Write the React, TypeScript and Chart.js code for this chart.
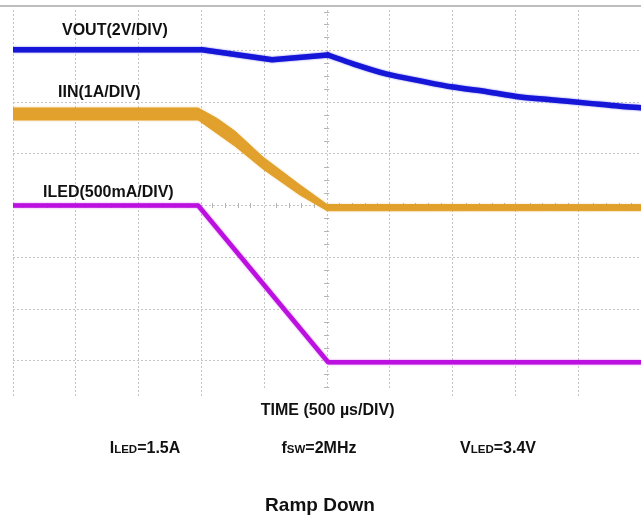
import React, { useEffect, useRef } from "react";
import { Chart, registerables } from "chart.js";

Chart.register(...registerables);

// Time axis in microseconds (500 µs per division), trace values in screen divisions
const vOutTimeA = [-2470, -980, -429, 10];
const vOutDivA = [3.01, 3.01, 2.82, 2.91];
const vOutTimeB = [10, 209, 476, 736, 996, 1264, 1524, 1783, 2051, 2311, 2476];
const vOutDivB = [2.91, 2.74, 2.54, 2.41, 2.29, 2.2, 2.1, 2.04, 1.98, 1.92, 1.89];

// IIN trace is a noisy band: upper and lower envelope
const iInTime = [-2470, -1012, -860, -720, -500, -209, 4, 2476];
const iInUpper = [1.886, 1.886, 1.68, 1.435, 0.936, 0.397, 0.02, 0.018];
const iInLower = [1.654, 1.654, 1.39, 1.145, 0.704, 0.203, -0.1, -0.098];

const iLedTime = [-2470, -1012, 12, 2476];
const iLedDiv = [0.0, 0.0, -3.03, -3.03];

const seriesNames = ["VOUT(2V/DIV)", "IIN(1A/DIV)", "ILED(500mA/DIV)"];
const xTitle = "TIME (500 µs/DIV)";
const chartTitle = "Ramp Down";
// footnote parts: [main, small, rest]
const footnotes: [string, string, string][] = [
  ["I", "LED", "=1.5A"],
  ["f", "SW", "=2MHz"],
  ["V", "LED", "=3.4V"],
];

const X_MIN = -2470;
const X_MAX = 2476;
const Y_MIN = -3.72;
const Y_MAX = 3.78;

const BLUE = "#1616d8";
const ORANGE = "#e1a12c";
const MAGENTA = "#bb10e0";
const FONT = "'Liberation Sans', Arial, sans-serif";

const toPts = (xs: number[], ys: number[]) => xs.map((x, i) => ({ x, y: ys[i] }));

const decorPlugin = {
  id: "decor",
  beforeDatasetsDraw(chart: any) {
    const { ctx, chartArea, scales } = chart;
    const xs = scales.x;
    const ys = scales.y;
    const cx = xs.getPixelForValue(0);
    const cy = ys.getPixelForValue(0);
    ctx.save();
    ctx.strokeStyle = "#b4b4b4";
    ctx.lineWidth = 1;
    for (let v = -2500; v <= 2500; v += 100) {
      if (v % 500 === 0) continue;
      const px = xs.getPixelForValue(v);
      if (px < chartArea.left || px > chartArea.right) continue;
      ctx.beginPath();
      ctx.moveTo(Math.round(px) + 0.5, cy - 2.5);
      ctx.lineTo(Math.round(px) + 0.5, cy + 2.5);
      ctx.stroke();
    }
    for (let v = -4; v <= 4; v += 0.25) {
      if (Math.abs(v - Math.round(v)) < 1e-6) continue;
      const py = ys.getPixelForValue(v);
      if (py < chartArea.top || py > chartArea.bottom) continue;
      ctx.beginPath();
      ctx.moveTo(cx - 2.5, Math.round(py) + 0.5);
      ctx.lineTo(cx + 2.5, Math.round(py) + 0.5);
      ctx.stroke();
    }
    ctx.font = `bold 16px ${FONT}`;
    const tw = ctx.measureText(xTitle).width;
    ctx.fillStyle = "#ffffff";
    ctx.fillRect(cx - tw / 2 - 56, chartArea.bottom - 10, tw + 112, 40);
    ctx.restore();
  },
  beforeDatasetDraw(chart: any, args: any) {
    const ctx = chart.ctx;
    const ds = chart.data.datasets[args.index];
    ctx.save();
    ctx.shadowColor = (ds.glow || "#888888") + "99";
    ctx.shadowBlur = 2;
  },
  afterDatasetDraw(chart: any) {
    chart.ctx.restore();
  },
  afterDraw(chart: any) {
    const { ctx, chartArea, scales, width } = chart;
    const cx = scales.x.getPixelForValue(0);
    ctx.save();
    ctx.strokeStyle = "#a8a8a8";
    ctx.lineWidth = 1.5;
    ctx.beginPath();
    ctx.moveTo(0, 6);
    ctx.lineTo(width, 6);
    ctx.stroke();

    ctx.fillStyle = "#111111";
    ctx.textBaseline = "alphabetic";
    ctx.textAlign = "left";
    ctx.font = `bold 16px ${FONT}`;
    const labelPos = [
      [62, 35],
      [58, 97],
      [43, 197],
    ];
    seriesNames.forEach((s, i) => ctx.fillText(s, labelPos[i][0], labelPos[i][1]));

    ctx.textAlign = "center";
    ctx.fillText(xTitle, cx + 1, chartArea.bottom + 17);

    const centers = [145, 319, 498];
    footnotes.forEach((parts, i) => {
      const big = `bold 16px ${FONT}`;
      const small = `bold 11.5px ${FONT}`;
      ctx.font = big;
      const w0 = ctx.measureText(parts[0]).width;
      const w2 = ctx.measureText(parts[2]).width;
      ctx.font = small;
      const w1 = ctx.measureText(parts[1]).width;
      let x = centers[i] - (w0 + w1 + w2) / 2;
      ctx.textAlign = "left";
      ctx.font = big;
      ctx.fillText(parts[0], x, 453);
      x += w0;
      ctx.font = small;
      ctx.fillText(parts[1], x, 453);
      x += w1;
      ctx.font = big;
      ctx.fillText(parts[2], x, 453);
    });

    ctx.textAlign = "center";
    ctx.font = `bold 19px ${FONT}`;
    ctx.fillText(chartTitle, 320, 511);
    ctx.restore();
  },
};

export default function App() {
  const ref = useRef<HTMLCanvasElement | null>(null);
  useEffect(() => {
    if (!ref.current) return;
    const chart = new Chart(ref.current, {
      type: "line",
      data: {
        datasets: [
          {
            label: seriesNames[0],
            data: toPts(vOutTimeA, vOutDivA),
            borderColor: BLUE,
            glow: BLUE,
            borderWidth: 5.5,
            pointRadius: 0,
            tension: 0,
            borderJoinStyle: "round",
            borderCapStyle: "round",
          },
          {
            label: seriesNames[0] + " decay",
            data: toPts(vOutTimeB, vOutDivB),
            borderColor: BLUE,
            glow: BLUE,
            borderWidth: 5.5,
            pointRadius: 0,
            cubicInterpolationMode: "monotone",
            borderJoinStyle: "round",
            borderCapStyle: "round",
          },
          {
            label: seriesNames[1] + " upper",
            data: toPts(iInTime, iInUpper),
            borderColor: ORANGE,
            glow: ORANGE,
            backgroundColor: ORANGE,
            borderWidth: 1,
            pointRadius: 0,
            tension: 0,
            fill: false,
          },
          {
            label: seriesNames[1],
            data: toPts(iInTime, iInLower),
            borderColor: ORANGE,
            glow: ORANGE,
            backgroundColor: ORANGE,
            borderWidth: 1,
            pointRadius: 0,
            tension: 0,
            fill: "-1",
          },
          {
            label: seriesNames[2],
            data: toPts(iLedTime, iLedDiv),
            borderColor: MAGENTA,
            glow: MAGENTA,
            borderWidth: 4.5,
            pointRadius: 0,
            tension: 0,
            borderJoinStyle: "round",
          },
        ],
      },
      options: {
        animation: false,
        responsive: false,
        events: [],
        layout: { padding: { left: 13, right: 0, top: 10, bottom: 118 } },
        plugins: { legend: { display: false }, tooltip: { enabled: false }, filler: { propagate: false } },
        scales: {
          x: {
            type: "linear",
            min: X_MIN,
            max: X_MAX,
            ticks: { display: false, stepSize: 500, includeBounds: false },
            grid: { color: "#c4c4c4", lineWidth: 1, drawTicks: false },
            border: { display: false, dash: [2, 2] },
          },
          y: {
            type: "linear",
            min: Y_MIN,
            max: Y_MAX,
            ticks: { display: false, stepSize: 1, includeBounds: false },
            grid: { color: "#c4c4c4", lineWidth: 1, drawTicks: false },
            border: { display: false, dash: [2, 2] },
          },
        },
      } as any,
      plugins: [decorPlugin],
    });
    return () => chart.destroy();
  }, []);
  return (
    <div style={{ position: "fixed", left: 0, top: 0, width: 641, height: 516, background: "#fff" }}>
      <canvas ref={ref} width={641} height={516} style={{ display: "block" }} />
    </div>
  );
}
